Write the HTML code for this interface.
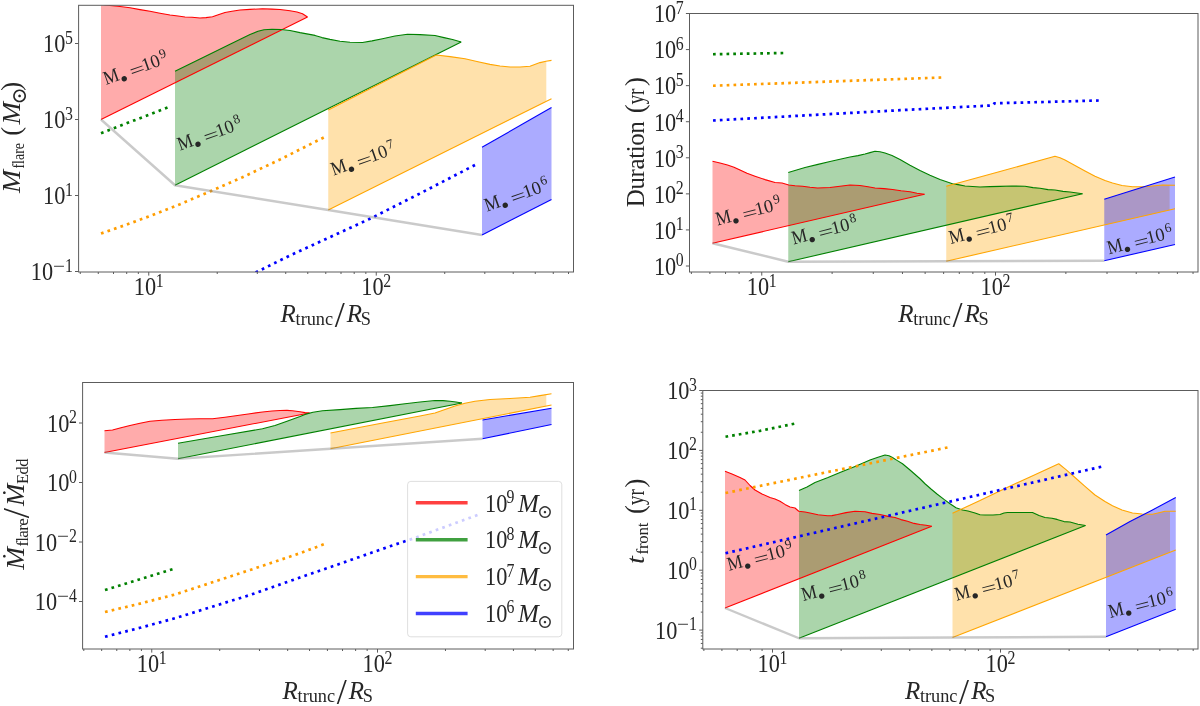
<!DOCTYPE html>
<html lang="en"><head><meta charset="utf-8"><title>Flare properties vs truncation radius</title>
<style>html,body{margin:0;padding:0;background:#fff}svg{display:block}svg text{font-family:"Liberation Serif", "DejaVu Serif", serif}</style></head>
<body>
<svg width="1200" height="706" viewBox="0 0 1200 706">
<rect width="1200" height="706" fill="#fff"/>
<clipPath id="ax2"><rect x="78.60" y="5.30" width="494.90" height="266.70"/>
</clipPath>
<g clip-path="url(#ax2)"><polygon points="101.00,2.00 104.00,4.60 110.00,5.50 120.00,6.50 130.00,7.80 140.00,9.60 150.00,11.30 160.00,13.20 170.00,15.00 178.00,16.00 185.00,17.00 192.00,17.20 200.00,18.00 206.00,17.60 212.50,16.80 219.00,14.60 225.00,12.50 232.00,11.30 240.00,10.00 250.00,9.40 262.50,8.70 272.00,9.10 280.00,9.50 290.00,10.80 297.00,12.00 302.50,13.70 307.50,17.00 307.50,17.00 101.00,119.50" fill="#ff0000" fill-opacity="0.33"/>
<polygon points="175.00,71.25 200.00,59.00 230.00,44.30 250.00,34.60 258.00,31.20 264.00,29.80 272.00,29.20 281.00,29.50 290.00,30.50 300.00,32.60 315.00,35.40 322.00,37.60 330.00,39.40 340.00,41.20 350.00,42.20 362.50,42.50 372.00,40.90 382.50,38.70 395.00,36.00 407.50,34.20 420.00,34.60 435.00,35.50 444.00,37.60 452.50,39.50 461.20,42.00 461.20,42.00 175.00,185.25" fill="#008000" fill-opacity="0.33"/>
<clipPath id="fc1"><rect x="0" y="0" width="546.30" height="706"/>
</clipPath>
<g clip-path="url(#fc1)"><polygon points="328.25,110.00 436.25,55.00 450.00,56.60 465.00,58.80 478.00,61.80 490.00,64.40 500.00,66.00 510.00,67.00 520.00,67.00 530.00,66.20 540.00,62.60 546.00,61.20 551.50,60.40 551.50,98.75 328.25,210.00" fill="#ffa500" fill-opacity="0.33"/>
</g>
<polygon points="482.00,147.30 551.50,107.50 551.50,199.50 482.00,235.00" fill="#0000ff" fill-opacity="0.33"/>
<polyline points="101.00,2.00 104.00,4.60 110.00,5.50 120.00,6.50 130.00,7.80 140.00,9.60 150.00,11.30 160.00,13.20 170.00,15.00 178.00,16.00 185.00,17.00 192.00,17.20 200.00,18.00 206.00,17.60 212.50,16.80 219.00,14.60 225.00,12.50 232.00,11.30 240.00,10.00 250.00,9.40 262.50,8.70 272.00,9.10 280.00,9.50 290.00,10.80 297.00,12.00 302.50,13.70 307.50,17.00" fill="none" stroke="#ff0000" stroke-width="1.1" stroke-linejoin="round"/>
<polyline points="101.00,119.50 307.50,17.00" fill="none" stroke="#ff0000" stroke-width="1.1"/>
<polyline points="175.00,71.25 200.00,59.00 230.00,44.30 250.00,34.60 258.00,31.20 264.00,29.80 272.00,29.20 281.00,29.50 290.00,30.50 300.00,32.60 315.00,35.40 322.00,37.60 330.00,39.40 340.00,41.20 350.00,42.20 362.50,42.50 372.00,40.90 382.50,38.70 395.00,36.00 407.50,34.20 420.00,34.60 435.00,35.50 444.00,37.60 452.50,39.50 461.20,42.00" fill="none" stroke="#008000" stroke-width="1.1" stroke-linejoin="round"/>
<polyline points="175.00,185.25 461.20,42.00" fill="none" stroke="#008000" stroke-width="1.1"/>
<polyline points="328.25,110.00 436.25,55.00 450.00,56.60 465.00,58.80 478.00,61.80 490.00,64.40 500.00,66.00 510.00,67.00 520.00,67.00 530.00,66.20 540.00,62.60 546.00,61.20 551.50,60.40" fill="none" stroke="#ffa500" stroke-width="1.1" stroke-linejoin="round"/>
<polyline points="328.25,210.00 551.50,98.75" fill="none" stroke="#ffa500" stroke-width="1.1"/>
<polyline points="482.00,147.30 551.50,107.50" fill="none" stroke="#0000ff" stroke-width="1.1" stroke-linejoin="round"/>
<polyline points="482.00,235.00 551.50,199.50" fill="none" stroke="#0000ff" stroke-width="1.1"/>
<polyline points="101.00,133.25 167.50,107.50" fill="none" stroke="#008000" stroke-width="2.7" stroke-dasharray="2.7 4.161"/>
<polyline points="101.00,233.50 125.00,225.20 150.00,216.00 180.00,204.20 211.00,191.00 242.50,177.25 280.00,159.50 323.75,137.50" fill="none" stroke="#ff9d00" stroke-width="2.7" stroke-dasharray="2.7 4.160"/>
<polyline points="255.60,272.50 290.00,255.50 370.00,218.75 420.00,193.50 475.00,165.00" fill="none" stroke="#0000ff" stroke-width="2.7" stroke-dasharray="2.7 4.205"/>
<polyline points="101.00,119.50 175.00,185.25 328.25,210.00 482.00,235.00" fill="none" stroke="#808080" stroke-opacity="0.42" stroke-width="2.4" stroke-linejoin="round"/>
<text transform="translate(106.51,84.90) rotate(-19.5)" font-size="18.5" fill="#262626"><tspan x="-0.5" y="0" font-size="19.5" textLength="15.3" lengthAdjust="spacingAndGlyphs">M</tspan><tspan x="14.7" y="7.6" font-size="23">•</tspan><tspan x="26.3" y="2.1" textLength="15.2" lengthAdjust="spacingAndGlyphs">=</tspan><tspan x="39.9" y="0">10</tspan><tspan x="59.9" y="-6.6" font-size="13.3">9</tspan></text>
<text transform="translate(180.41,150.49) rotate(-19.5)" font-size="18.5" fill="#262626"><tspan x="-0.5" y="0" font-size="19.5" textLength="15.3" lengthAdjust="spacingAndGlyphs">M</tspan><tspan x="14.7" y="7.6" font-size="23">•</tspan><tspan x="26.3" y="2.1" textLength="15.2" lengthAdjust="spacingAndGlyphs">=</tspan><tspan x="39.9" y="0">10</tspan><tspan x="59.9" y="-6.6" font-size="13.3">8</tspan></text>
<text transform="translate(333.88,175.49) rotate(-19.5)" font-size="18.5" fill="#262626"><tspan x="-0.5" y="0" font-size="19.5" textLength="15.3" lengthAdjust="spacingAndGlyphs">M</tspan><tspan x="14.7" y="7.6" font-size="23">•</tspan><tspan x="26.3" y="2.1" textLength="15.2" lengthAdjust="spacingAndGlyphs">=</tspan><tspan x="39.9" y="0">10</tspan><tspan x="59.9" y="-6.6" font-size="13.3">7</tspan></text>
<text transform="translate(487.56,211.60) rotate(-19.5)" font-size="18.5" fill="#262626"><tspan x="-0.5" y="0" font-size="19.5" textLength="15.3" lengthAdjust="spacingAndGlyphs">M</tspan><tspan x="14.7" y="7.6" font-size="23">•</tspan><tspan x="26.3" y="2.1" textLength="15.2" lengthAdjust="spacingAndGlyphs">=</tspan><tspan x="39.9" y="0">10</tspan><tspan x="59.9" y="-6.6" font-size="13.3">6</tspan></text>
</g>
<path d="M80.27 272.00v2.0M98.28 272.00v2.0M113.51 272.00v2.0M126.70 272.00v2.0M138.34 272.00v2.0M148.75 272.00v3.6M217.23 272.00v2.0M257.30 272.00v2.0M285.72 272.00v2.0M307.77 272.00v2.0M325.78 272.00v2.0M341.01 272.00v2.0M354.20 272.00v2.0M365.84 272.00v2.0M376.25 272.00v3.6M444.73 272.00v2.0M484.80 272.00v2.0M513.22 272.00v2.0M535.27 272.00v2.0M553.28 272.00v2.0M568.51 272.00v2.0M78.60 43.50h-3.6M78.60 119.50h-3.6M78.60 195.50h-3.6M78.60 271.50h-3.6" stroke="#5c5c5c" stroke-width="1" fill="none"/>
<rect x="78.60" y="5.30" width="494.90" height="266.70" fill="none" stroke="#5c5c5c" stroke-width="1"/>
<text x="72.80" y="52.30" font-size="25" text-anchor="end" fill="#262626"><tspan textLength="22.3" lengthAdjust="spacingAndGlyphs">10</tspan><tspan font-size="18" dx="-0.4" dy="-8.8" textLength="7.9" lengthAdjust="spacingAndGlyphs">5</tspan></text>
<text x="72.80" y="128.30" font-size="25" text-anchor="end" fill="#262626"><tspan textLength="22.3" lengthAdjust="spacingAndGlyphs">10</tspan><tspan font-size="18" dx="-0.4" dy="-8.8" textLength="7.9" lengthAdjust="spacingAndGlyphs">3</tspan></text>
<text x="72.80" y="204.30" font-size="25" text-anchor="end" fill="#262626"><tspan textLength="22.3" lengthAdjust="spacingAndGlyphs">10</tspan><tspan font-size="18" dx="-0.4" dy="-8.8" textLength="7.9" lengthAdjust="spacingAndGlyphs">1</tspan></text>
<text x="72.80" y="280.30" font-size="25" text-anchor="end" fill="#262626"><tspan textLength="22.3" lengthAdjust="spacingAndGlyphs">10</tspan><tspan font-size="18" dx="-0.2" dy="-8.8" textLength="12" lengthAdjust="spacingAndGlyphs">−</tspan><tspan font-size="18" textLength="7.9" lengthAdjust="spacingAndGlyphs">1</tspan></text>
<text x="133.75" y="295.30" font-size="25" text-anchor="start" fill="#262626"><tspan textLength="22.3" lengthAdjust="spacingAndGlyphs">10</tspan><tspan font-size="18" dx="-0.4" dy="-8.8" textLength="7.9" lengthAdjust="spacingAndGlyphs">1</tspan></text>
<text x="361.25" y="295.30" font-size="25" text-anchor="start" fill="#262626"><tspan textLength="22.3" lengthAdjust="spacingAndGlyphs">10</tspan><tspan font-size="18" dx="-0.4" dy="-8.8" textLength="7.9" lengthAdjust="spacingAndGlyphs">2</tspan></text>
<text font-size="25" fill="#262626"><tspan x="280.55" y="321.50" font-style="italic">R</tspan><tspan x="295.55" y="325.10" font-size="18.3">trunc</tspan><tspan x="334.75" y="327.30" font-size="36">/</tspan><tspan x="346.85" y="321.50" font-style="italic">R</tspan><tspan x="360.75" y="325.10" font-size="18.3">S</tspan></text>
<text transform="translate(19.80,193.00) rotate(-90)" font-size="25" fill="#262626"><tspan x="0.00" y="0.00" font-style="italic" textLength="23.2" lengthAdjust="spacingAndGlyphs">M</tspan><tspan x="24.40" y="4.30" font-size="17.5" textLength="25.6" lengthAdjust="spacingAndGlyphs">flare</tspan><tspan x="57.30" y="0.00" font-size="26.5">(</tspan><tspan x="68.60" y="0.00" font-style="italic" textLength="22.6" lengthAdjust="spacingAndGlyphs">M</tspan><tspan x="88.60" y="6.00" font-size="20.5">⊙</tspan><tspan x="102.30" y="0.00" font-size="26.5">)</tspan></text>
<clipPath id="ax4"><rect x="689.50" y="13.50" width="508.50" height="258.50"/>
</clipPath>
<g clip-path="url(#ax4)"><polygon points="712.50,161.25 720.00,163.00 727.50,165.00 734.00,167.20 740.00,170.00 747.00,173.30 755.00,176.20 765.00,179.60 775.00,182.50 782.00,183.00 788.75,185.00 795.00,185.80 802.50,186.20 810.00,187.30 817.50,188.00 830.00,187.50 840.00,186.30 850.00,185.00 860.00,185.50 868.00,186.80 875.00,188.00 884.00,188.60 892.50,189.50 901.00,190.80 910.00,191.70 917.00,193.20 924.50,194.25 924.50,194.25 712.50,243.25" fill="#ff0000" fill-opacity="0.33"/>
<polygon points="788.25,172.50 805.00,167.50 818.00,164.40 830.00,161.50 840.00,159.20 850.00,157.00 858.00,155.60 865.00,154.00 870.00,152.60 875.00,151.25 880.00,151.80 885.00,153.00 892.00,155.60 900.00,159.60 910.00,165.20 920.00,170.40 930.00,175.20 940.00,179.60 952.50,183.70 958.00,184.60 965.00,186.00 980.00,187.00 990.00,186.60 1000.00,186.40 1012.00,186.00 1025.00,186.25 1033.00,187.60 1040.00,188.20 1048.00,189.60 1055.00,190.00 1063.00,191.40 1070.00,192.00 1082.50,193.75 1082.50,193.75 788.25,261.75" fill="#008000" fill-opacity="0.33"/>
<clipPath id="fc3"><rect x="0" y="0" width="1169.60" height="706"/>
</clipPath>
<g clip-path="url(#fc3)"><polygon points="946.25,186.25 1000.00,171.50 1055.00,156.25 1060.00,157.80 1065.00,160.00 1075.00,165.50 1085.00,171.00 1095.00,176.25 1105.00,180.50 1112.50,183.00 1122.00,185.50 1132.50,186.75 1142.00,186.75 1150.00,186.25 1162.50,185.00 1175.00,185.25 1175.00,208.75 946.25,261.25" fill="#ffa500" fill-opacity="0.33"/>
</g>
<polygon points="1104.25,199.25 1175.00,177.00 1175.00,244.50 1104.25,260.75" fill="#0000ff" fill-opacity="0.33"/>
<polyline points="712.50,161.25 720.00,163.00 727.50,165.00 734.00,167.20 740.00,170.00 747.00,173.30 755.00,176.20 765.00,179.60 775.00,182.50 782.00,183.00 788.75,185.00 795.00,185.80 802.50,186.20 810.00,187.30 817.50,188.00 830.00,187.50 840.00,186.30 850.00,185.00 860.00,185.50 868.00,186.80 875.00,188.00 884.00,188.60 892.50,189.50 901.00,190.80 910.00,191.70 917.00,193.20 924.50,194.25" fill="none" stroke="#ff0000" stroke-width="1.1" stroke-linejoin="round"/>
<polyline points="712.50,243.25 924.50,194.25" fill="none" stroke="#ff0000" stroke-width="1.1"/>
<polyline points="788.25,172.50 805.00,167.50 818.00,164.40 830.00,161.50 840.00,159.20 850.00,157.00 858.00,155.60 865.00,154.00 870.00,152.60 875.00,151.25 880.00,151.80 885.00,153.00 892.00,155.60 900.00,159.60 910.00,165.20 920.00,170.40 930.00,175.20 940.00,179.60 952.50,183.70 958.00,184.60 965.00,186.00 980.00,187.00 990.00,186.60 1000.00,186.40 1012.00,186.00 1025.00,186.25 1033.00,187.60 1040.00,188.20 1048.00,189.60 1055.00,190.00 1063.00,191.40 1070.00,192.00 1082.50,193.75" fill="none" stroke="#008000" stroke-width="1.1" stroke-linejoin="round"/>
<polyline points="788.25,261.75 1082.50,193.75" fill="none" stroke="#008000" stroke-width="1.1"/>
<polyline points="946.25,186.25 1000.00,171.50 1055.00,156.25 1060.00,157.80 1065.00,160.00 1075.00,165.50 1085.00,171.00 1095.00,176.25 1105.00,180.50 1112.50,183.00 1122.00,185.50 1132.50,186.75 1142.00,186.75 1150.00,186.25 1162.50,185.00 1175.00,185.25" fill="none" stroke="#ffa500" stroke-width="1.1" stroke-linejoin="round"/>
<polyline points="946.25,261.25 1175.00,208.75" fill="none" stroke="#ffa500" stroke-width="1.1"/>
<polyline points="1104.25,199.25 1175.00,177.00" fill="none" stroke="#0000ff" stroke-width="1.1" stroke-linejoin="round"/>
<polyline points="1104.25,260.75 1175.00,244.50" fill="none" stroke="#0000ff" stroke-width="1.1"/>
<polyline points="713.00,54.25 783.25,53.00" fill="none" stroke="#008000" stroke-width="2.7" stroke-dasharray="2.7 4.056"/>
<polyline points="713.00,85.75 941.25,77.50" fill="none" stroke="#ff9d00" stroke-width="2.7" stroke-dasharray="2.7 4.139"/>
<polyline points="713.00,120.50 900.00,110.20 992.50,105.40 994.50,103.30 1098.75,100.50" fill="none" stroke="#0000ff" stroke-width="2.7" stroke-dasharray="2.7 4.164"/>
<polyline points="712.50,243.25 788.25,261.75 946.25,261.25 1104.25,260.75" fill="none" stroke="#808080" stroke-opacity="0.42" stroke-width="2.4" stroke-linejoin="round"/>
<text transform="translate(717.90,225.48) rotate(-14.5)" font-size="18.5" fill="#262626"><tspan x="-0.5" y="0" font-size="19.5" textLength="15.3" lengthAdjust="spacingAndGlyphs">M</tspan><tspan x="14.7" y="7.6" font-size="23">•</tspan><tspan x="26.3" y="2.1" textLength="15.2" lengthAdjust="spacingAndGlyphs">=</tspan><tspan x="39.9" y="0">10</tspan><tspan x="59.9" y="-6.6" font-size="13.3">9</tspan></text>
<text transform="translate(794.10,244.38) rotate(-14.5)" font-size="18.5" fill="#262626"><tspan x="-0.5" y="0" font-size="19.5" textLength="15.3" lengthAdjust="spacingAndGlyphs">M</tspan><tspan x="14.7" y="7.6" font-size="23">•</tspan><tspan x="26.3" y="2.1" textLength="15.2" lengthAdjust="spacingAndGlyphs">=</tspan><tspan x="39.9" y="0">10</tspan><tspan x="59.9" y="-6.6" font-size="13.3">8</tspan></text>
<text transform="translate(951.21,243.93) rotate(-14.5)" font-size="18.5" fill="#262626"><tspan x="-0.5" y="0" font-size="19.5" textLength="15.3" lengthAdjust="spacingAndGlyphs">M</tspan><tspan x="14.7" y="7.6" font-size="23">•</tspan><tspan x="26.3" y="2.1" textLength="15.2" lengthAdjust="spacingAndGlyphs">=</tspan><tspan x="39.9" y="0">10</tspan><tspan x="59.9" y="-6.6" font-size="13.3">7</tspan></text>
<text transform="translate(1109.42,254.01) rotate(-14.5)" font-size="18.5" fill="#262626"><tspan x="-0.5" y="0" font-size="19.5" textLength="15.3" lengthAdjust="spacingAndGlyphs">M</tspan><tspan x="14.7" y="7.6" font-size="23">•</tspan><tspan x="26.3" y="2.1" textLength="15.2" lengthAdjust="spacingAndGlyphs">=</tspan><tspan x="39.9" y="0">10</tspan><tspan x="59.9" y="-6.6" font-size="13.3">6</tspan></text>
</g>
<path d="M691.38 272.00v2.0M709.89 272.00v2.0M725.54 272.00v2.0M739.10 272.00v2.0M751.05 272.00v2.0M761.75 272.00v3.6M832.12 272.00v2.0M873.28 272.00v2.0M902.48 272.00v2.0M925.13 272.00v2.0M943.64 272.00v2.0M959.29 272.00v2.0M972.85 272.00v2.0M984.80 272.00v2.0M995.50 272.00v3.6M1065.87 272.00v2.0M1107.03 272.00v2.0M1136.23 272.00v2.0M1158.88 272.00v2.0M1177.39 272.00v2.0M1193.04 272.00v2.0M689.50 266.00h-3.6M689.50 229.93h-3.6M689.50 193.86h-3.6M689.50 157.79h-3.6M689.50 121.72h-3.6M689.50 85.65h-3.6M689.50 49.58h-3.6M689.50 13.51h-3.6" stroke="#5c5c5c" stroke-width="1" fill="none"/>
<rect x="689.50" y="13.50" width="508.50" height="258.50" fill="none" stroke="#5c5c5c" stroke-width="1"/>
<text x="683.70" y="274.80" font-size="25" text-anchor="end" fill="#262626"><tspan textLength="22.3" lengthAdjust="spacingAndGlyphs">10</tspan><tspan font-size="18" dx="-0.4" dy="-8.8" textLength="7.9" lengthAdjust="spacingAndGlyphs">0</tspan></text>
<text x="683.70" y="238.73" font-size="25" text-anchor="end" fill="#262626"><tspan textLength="22.3" lengthAdjust="spacingAndGlyphs">10</tspan><tspan font-size="18" dx="-0.4" dy="-8.8" textLength="7.9" lengthAdjust="spacingAndGlyphs">1</tspan></text>
<text x="683.70" y="202.66" font-size="25" text-anchor="end" fill="#262626"><tspan textLength="22.3" lengthAdjust="spacingAndGlyphs">10</tspan><tspan font-size="18" dx="-0.4" dy="-8.8" textLength="7.9" lengthAdjust="spacingAndGlyphs">2</tspan></text>
<text x="683.70" y="166.59" font-size="25" text-anchor="end" fill="#262626"><tspan textLength="22.3" lengthAdjust="spacingAndGlyphs">10</tspan><tspan font-size="18" dx="-0.4" dy="-8.8" textLength="7.9" lengthAdjust="spacingAndGlyphs">3</tspan></text>
<text x="683.70" y="130.52" font-size="25" text-anchor="end" fill="#262626"><tspan textLength="22.3" lengthAdjust="spacingAndGlyphs">10</tspan><tspan font-size="18" dx="-0.4" dy="-8.8" textLength="7.9" lengthAdjust="spacingAndGlyphs">4</tspan></text>
<text x="683.70" y="94.45" font-size="25" text-anchor="end" fill="#262626"><tspan textLength="22.3" lengthAdjust="spacingAndGlyphs">10</tspan><tspan font-size="18" dx="-0.4" dy="-8.8" textLength="7.9" lengthAdjust="spacingAndGlyphs">5</tspan></text>
<text x="683.70" y="58.38" font-size="25" text-anchor="end" fill="#262626"><tspan textLength="22.3" lengthAdjust="spacingAndGlyphs">10</tspan><tspan font-size="18" dx="-0.4" dy="-8.8" textLength="7.9" lengthAdjust="spacingAndGlyphs">6</tspan></text>
<text x="683.70" y="22.31" font-size="25" text-anchor="end" fill="#262626"><tspan textLength="22.3" lengthAdjust="spacingAndGlyphs">10</tspan><tspan font-size="18" dx="-0.4" dy="-8.8" textLength="7.9" lengthAdjust="spacingAndGlyphs">7</tspan></text>
<text x="746.75" y="295.30" font-size="25" text-anchor="start" fill="#262626"><tspan textLength="22.3" lengthAdjust="spacingAndGlyphs">10</tspan><tspan font-size="18" dx="-0.4" dy="-8.8" textLength="7.9" lengthAdjust="spacingAndGlyphs">1</tspan></text>
<text x="980.50" y="295.30" font-size="25" text-anchor="start" fill="#262626"><tspan textLength="22.3" lengthAdjust="spacingAndGlyphs">10</tspan><tspan font-size="18" dx="-0.4" dy="-8.8" textLength="7.9" lengthAdjust="spacingAndGlyphs">2</tspan></text>
<text font-size="25" fill="#262626"><tspan x="898.25" y="321.50" font-style="italic">R</tspan><tspan x="913.25" y="325.10" font-size="18.3">trunc</tspan><tspan x="952.45" y="327.30" font-size="36">/</tspan><tspan x="964.55" y="321.50" font-style="italic">R</tspan><tspan x="978.45" y="325.10" font-size="18.3">S</tspan></text>
<text transform="translate(644.30,207.20) rotate(-90)" font-size="25" fill="#262626"><tspan x="0.00" y="0.00" letter-spacing="-0.4">Duration</tspan><tspan x="94.00" y="0.00" font-size="26.5">(</tspan><tspan x="102.60" y="0.00" textLength="16.2" lengthAdjust="spacingAndGlyphs">yr</tspan><tspan x="121.20" y="0.00" font-size="26.5">)</tspan></text>
<clipPath id="ax6"><rect x="82.60" y="382.50" width="490.90" height="266.50"/>
</clipPath>
<g clip-path="url(#ax6)"><polygon points="104.50,430.75 112.50,430.00 121.00,427.80 130.00,425.50 140.00,423.20 150.00,421.25 162.00,420.20 175.00,419.50 188.00,419.00 200.00,418.75 212.50,418.75 225.00,417.20 237.50,415.50 250.00,413.70 262.50,412.00 272.00,411.00 280.00,410.50 287.00,410.40 292.50,410.75 300.00,411.80 305.00,412.60 309.50,413.00 309.50,413.00 104.50,452.50" fill="#ff0000" fill-opacity="0.33"/>
<polygon points="178.00,443.25 220.00,436.00 262.50,428.75 275.00,425.50 287.00,421.20 300.00,416.50 305.00,414.40 313.00,412.20 322.50,410.75 340.00,409.60 356.00,408.40 372.50,407.50 390.00,405.60 405.00,403.80 420.00,402.00 435.00,400.50 443.00,400.60 450.00,401.25 456.00,402.00 462.00,403.00 462.00,403.00 178.00,458.75" fill="#008000" fill-opacity="0.33"/>
<clipPath id="fc5"><rect x="0" y="0" width="546.30" height="706"/>
</clipPath>
<g clip-path="url(#fc5)"><polygon points="330.50,433.00 380.00,423.50 420.00,416.00 435.00,413.00 445.00,409.60 455.00,406.00 465.00,403.20 475.00,401.25 490.00,399.50 510.00,398.50 530.00,397.30 540.00,395.60 551.50,393.75 551.50,405.00 330.50,448.75" fill="#ffa500" fill-opacity="0.33"/>
</g>
<polygon points="482.50,420.00 551.50,408.25 551.50,424.50 482.50,438.75" fill="#0000ff" fill-opacity="0.33"/>
<polyline points="104.50,430.75 112.50,430.00 121.00,427.80 130.00,425.50 140.00,423.20 150.00,421.25 162.00,420.20 175.00,419.50 188.00,419.00 200.00,418.75 212.50,418.75 225.00,417.20 237.50,415.50 250.00,413.70 262.50,412.00 272.00,411.00 280.00,410.50 287.00,410.40 292.50,410.75 300.00,411.80 305.00,412.60 309.50,413.00" fill="none" stroke="#ff0000" stroke-width="1.1" stroke-linejoin="round"/>
<polyline points="104.50,452.50 309.50,413.00" fill="none" stroke="#ff0000" stroke-width="1.1"/>
<polyline points="178.00,443.25 220.00,436.00 262.50,428.75 275.00,425.50 287.00,421.20 300.00,416.50 305.00,414.40 313.00,412.20 322.50,410.75 340.00,409.60 356.00,408.40 372.50,407.50 390.00,405.60 405.00,403.80 420.00,402.00 435.00,400.50 443.00,400.60 450.00,401.25 456.00,402.00 462.00,403.00" fill="none" stroke="#008000" stroke-width="1.1" stroke-linejoin="round"/>
<polyline points="178.00,458.75 462.00,403.00" fill="none" stroke="#008000" stroke-width="1.1"/>
<polyline points="330.50,433.00 380.00,423.50 420.00,416.00 435.00,413.00 445.00,409.60 455.00,406.00 465.00,403.20 475.00,401.25 490.00,399.50 510.00,398.50 530.00,397.30 540.00,395.60 551.50,393.75" fill="none" stroke="#ffa500" stroke-width="1.1" stroke-linejoin="round"/>
<polyline points="330.50,448.75 551.50,405.00" fill="none" stroke="#ffa500" stroke-width="1.1"/>
<polyline points="482.50,420.00 551.50,408.25" fill="none" stroke="#0000ff" stroke-width="1.1" stroke-linejoin="round"/>
<polyline points="482.50,438.75 551.50,424.50" fill="none" stroke="#0000ff" stroke-width="1.1"/>
<polyline points="105.00,590.00 172.50,569.25" fill="none" stroke="#008000" stroke-width="2.7" stroke-dasharray="2.7 4.092"/>
<polyline points="105.00,612.00 140.00,603.60 175.00,594.50 250.00,570.00 300.00,553.25 323.75,544.25" fill="none" stroke="#ff9d00" stroke-width="2.7" stroke-dasharray="2.7 4.163"/>
<polyline points="105.00,636.75 140.00,627.80 175.00,618.25 250.00,595.00 300.00,577.50 340.00,563.75 390.00,546.25 412.50,538.75 477.50,515.00" fill="none" stroke="#0000ff" stroke-width="2.7" stroke-dasharray="2.7 4.253"/>
<polyline points="104.50,452.50 178.00,458.75 330.50,448.75 482.50,438.75" fill="none" stroke="#808080" stroke-opacity="0.42" stroke-width="2.4" stroke-linejoin="round"/>
</g>
<path d="M83.79 649.00v2.0M101.67 649.00v2.0M116.78 649.00v2.0M129.87 649.00v2.0M141.42 649.00v2.0M151.75 649.00v3.6M219.71 649.00v2.0M259.46 649.00v2.0M287.67 649.00v2.0M309.54 649.00v2.0M327.42 649.00v2.0M342.53 649.00v2.0M355.62 649.00v2.0M367.17 649.00v2.0M377.50 649.00v3.6M445.46 649.00v2.0M485.21 649.00v2.0M513.42 649.00v2.0M535.29 649.00v2.0M553.17 649.00v2.0M568.28 649.00v2.0M82.60 423.00h-3.6M82.60 482.50h-3.6M82.60 542.00h-3.6M82.60 601.50h-3.6" stroke="#5c5c5c" stroke-width="1" fill="none"/>
<rect x="82.60" y="382.50" width="490.90" height="266.50" fill="none" stroke="#5c5c5c" stroke-width="1"/>
<text x="76.80" y="431.80" font-size="25" text-anchor="end" fill="#262626"><tspan textLength="22.3" lengthAdjust="spacingAndGlyphs">10</tspan><tspan font-size="18" dx="-0.4" dy="-8.8" textLength="7.9" lengthAdjust="spacingAndGlyphs">2</tspan></text>
<text x="76.80" y="491.30" font-size="25" text-anchor="end" fill="#262626"><tspan textLength="22.3" lengthAdjust="spacingAndGlyphs">10</tspan><tspan font-size="18" dx="-0.4" dy="-8.8" textLength="7.9" lengthAdjust="spacingAndGlyphs">0</tspan></text>
<text x="76.80" y="550.80" font-size="25" text-anchor="end" fill="#262626"><tspan textLength="22.3" lengthAdjust="spacingAndGlyphs">10</tspan><tspan font-size="18" dx="-0.2" dy="-8.8" textLength="12" lengthAdjust="spacingAndGlyphs">−</tspan><tspan font-size="18" textLength="7.9" lengthAdjust="spacingAndGlyphs">2</tspan></text>
<text x="76.80" y="610.30" font-size="25" text-anchor="end" fill="#262626"><tspan textLength="22.3" lengthAdjust="spacingAndGlyphs">10</tspan><tspan font-size="18" dx="-0.2" dy="-8.8" textLength="12" lengthAdjust="spacingAndGlyphs">−</tspan><tspan font-size="18" textLength="7.9" lengthAdjust="spacingAndGlyphs">4</tspan></text>
<text x="136.75" y="672.30" font-size="25" text-anchor="start" fill="#262626"><tspan textLength="22.3" lengthAdjust="spacingAndGlyphs">10</tspan><tspan font-size="18" dx="-0.4" dy="-8.8" textLength="7.9" lengthAdjust="spacingAndGlyphs">1</tspan></text>
<text x="362.50" y="672.30" font-size="25" text-anchor="start" fill="#262626"><tspan textLength="22.3" lengthAdjust="spacingAndGlyphs">10</tspan><tspan font-size="18" dx="-0.4" dy="-8.8" textLength="7.9" lengthAdjust="spacingAndGlyphs">2</tspan></text>
<text font-size="25" fill="#262626"><tspan x="282.55" y="698.50" font-style="italic">R</tspan><tspan x="297.55" y="702.10" font-size="18.3">trunc</tspan><tspan x="336.75" y="704.30" font-size="36">/</tspan><tspan x="348.85" y="698.50" font-style="italic">R</tspan><tspan x="362.75" y="702.10" font-size="18.3">S</tspan></text>
<text transform="translate(24.20,569.80) rotate(-90)" font-size="25" fill="#262626"><tspan x="0.00" y="0.00" font-style="italic" textLength="22.8" lengthAdjust="spacingAndGlyphs">Ṁ</tspan><tspan x="23.20" y="4.00" font-size="17" letter-spacing="-0.7">flare</tspan><tspan x="51.50" y="5.00" font-size="37">/</tspan><tspan x="63.70" y="0.00" font-style="italic" textLength="22.4" lengthAdjust="spacingAndGlyphs">Ṁ</tspan><tspan x="85.80" y="4.00" font-size="16.5" letter-spacing="-0.5">Edd</tspan></text>
<rect x="407.6" y="481.4" width="154.2" height="155.4" rx="3.2" ry="3.2" fill="#fff" fill-opacity="0.8" stroke="#cccccc" stroke-opacity="0.62" stroke-width="1"/>
<line x1="415.8" x2="467.6" y1="502.80" y2="502.80" stroke="#ff0000" stroke-opacity="0.75" stroke-width="3.4"/>
<text font-size="25" fill="#262626"><tspan x="485" y="511.50" textLength="22.3" lengthAdjust="spacingAndGlyphs">10</tspan><tspan x="506.6" y="502.70" font-size="18" textLength="7.9" lengthAdjust="spacingAndGlyphs">9</tspan><tspan x="518" y="511.50" font-size="25" font-style="italic">M</tspan><tspan x="536.9" y="517.50" font-size="19" fill="#333">⊙</tspan></text>
<line x1="415.8" x2="467.6" y1="539.70" y2="539.70" stroke="#008000" stroke-opacity="0.75" stroke-width="3.4"/>
<text font-size="25" fill="#262626"><tspan x="485" y="548.40" textLength="22.3" lengthAdjust="spacingAndGlyphs">10</tspan><tspan x="506.6" y="539.60" font-size="18" textLength="7.9" lengthAdjust="spacingAndGlyphs">8</tspan><tspan x="518" y="548.40" font-size="25" font-style="italic">M</tspan><tspan x="536.9" y="554.40" font-size="19" fill="#333">⊙</tspan></text>
<line x1="415.8" x2="467.6" y1="576.60" y2="576.60" stroke="#ffa500" stroke-opacity="0.75" stroke-width="3.4"/>
<text font-size="25" fill="#262626"><tspan x="485" y="585.30" textLength="22.3" lengthAdjust="spacingAndGlyphs">10</tspan><tspan x="506.6" y="576.50" font-size="18" textLength="7.9" lengthAdjust="spacingAndGlyphs">7</tspan><tspan x="518" y="585.30" font-size="25" font-style="italic">M</tspan><tspan x="536.9" y="591.30" font-size="19" fill="#333">⊙</tspan></text>
<line x1="415.8" x2="467.6" y1="613.50" y2="613.50" stroke="#0000ff" stroke-opacity="0.75" stroke-width="3.4"/>
<text font-size="25" fill="#262626"><tspan x="485" y="622.20" textLength="22.3" lengthAdjust="spacingAndGlyphs">10</tspan><tspan x="506.6" y="613.40" font-size="18" textLength="7.9" lengthAdjust="spacingAndGlyphs">6</tspan><tspan x="518" y="622.20" font-size="25" font-style="italic">M</tspan><tspan x="536.9" y="628.20" font-size="19" fill="#333">⊙</tspan></text>
<clipPath id="ax8"><rect x="702.80" y="390.50" width="495.20" height="258.50"/>
</clipPath>
<g clip-path="url(#ax8)"><polygon points="725.00,471.25 732.00,474.00 740.00,477.50 745.00,480.00 750.00,485.50 755.00,490.00 762.00,494.00 770.00,497.50 775.00,499.00 780.00,501.25 785.00,504.40 790.00,507.00 795.00,508.00 798.75,511.25 805.00,512.00 810.00,513.00 818.00,514.80 827.50,515.75 832.00,515.60 837.50,514.50 846.00,512.60 855.00,511.25 865.00,511.75 872.00,513.40 880.00,514.50 888.00,516.40 895.00,517.50 901.00,519.60 907.50,521.25 914.00,523.40 920.00,524.50 926.00,525.20 931.75,526.25 931.75,526.25 725.00,608.00" fill="#ff0000" fill-opacity="0.33"/>
<polygon points="799.00,490.50 807.00,487.00 815.00,482.50 828.00,477.60 840.00,472.50 855.00,466.40 870.00,460.00 878.00,457.20 885.00,455.00 889.00,455.80 892.50,457.50 897.00,460.40 902.50,463.75 910.00,470.00 920.00,478.75 925.00,483.75 931.00,489.00 937.00,494.00 944.00,499.40 950.00,503.75 956.00,507.80 962.50,510.00 968.00,511.00 975.00,513.00 980.00,514.80 985.00,515.00 993.00,515.00 1000.00,514.50 1004.00,513.00 1007.50,512.50 1020.00,512.50 1032.50,512.50 1039.00,515.60 1045.00,517.50 1052.00,518.20 1057.00,519.40 1064.00,521.60 1070.00,522.00 1078.00,524.20 1085.50,525.50 1085.50,525.50 799.00,638.25" fill="#008000" fill-opacity="0.33"/>
<clipPath id="fc7"><rect x="0" y="0" width="1170.10" height="706"/>
</clipPath>
<g clip-path="url(#fc7)"><polygon points="952.50,513.25 980.00,500.60 1005.00,488.40 1030.00,477.00 1058.75,463.75 1066.00,469.60 1075.00,477.50 1085.00,486.40 1095.00,495.00 1105.00,501.50 1112.50,505.75 1122.00,510.00 1132.50,513.00 1142.00,514.00 1152.50,514.25 1160.00,512.50 1165.00,511.25 1175.75,511.25 1175.75,550.00 952.50,637.50" fill="#ffa500" fill-opacity="0.33"/>
</g>
<polygon points="1106.00,535.00 1130.00,521.60 1152.00,510.20 1175.75,497.50 1175.75,609.25 1106.00,636.75" fill="#0000ff" fill-opacity="0.33"/>
<polyline points="725.00,471.25 732.00,474.00 740.00,477.50 745.00,480.00 750.00,485.50 755.00,490.00 762.00,494.00 770.00,497.50 775.00,499.00 780.00,501.25 785.00,504.40 790.00,507.00 795.00,508.00 798.75,511.25 805.00,512.00 810.00,513.00 818.00,514.80 827.50,515.75 832.00,515.60 837.50,514.50 846.00,512.60 855.00,511.25 865.00,511.75 872.00,513.40 880.00,514.50 888.00,516.40 895.00,517.50 901.00,519.60 907.50,521.25 914.00,523.40 920.00,524.50 926.00,525.20 931.75,526.25" fill="none" stroke="#ff0000" stroke-width="1.1" stroke-linejoin="round"/>
<polyline points="725.00,608.00 931.75,526.25" fill="none" stroke="#ff0000" stroke-width="1.1"/>
<polyline points="799.00,490.50 807.00,487.00 815.00,482.50 828.00,477.60 840.00,472.50 855.00,466.40 870.00,460.00 878.00,457.20 885.00,455.00 889.00,455.80 892.50,457.50 897.00,460.40 902.50,463.75 910.00,470.00 920.00,478.75 925.00,483.75 931.00,489.00 937.00,494.00 944.00,499.40 950.00,503.75 956.00,507.80 962.50,510.00 968.00,511.00 975.00,513.00 980.00,514.80 985.00,515.00 993.00,515.00 1000.00,514.50 1004.00,513.00 1007.50,512.50 1020.00,512.50 1032.50,512.50 1039.00,515.60 1045.00,517.50 1052.00,518.20 1057.00,519.40 1064.00,521.60 1070.00,522.00 1078.00,524.20 1085.50,525.50" fill="none" stroke="#008000" stroke-width="1.1" stroke-linejoin="round"/>
<polyline points="799.00,638.25 1085.50,525.50" fill="none" stroke="#008000" stroke-width="1.1"/>
<polyline points="952.50,513.25 980.00,500.60 1005.00,488.40 1030.00,477.00 1058.75,463.75 1066.00,469.60 1075.00,477.50 1085.00,486.40 1095.00,495.00 1105.00,501.50 1112.50,505.75 1122.00,510.00 1132.50,513.00 1142.00,514.00 1152.50,514.25 1160.00,512.50 1165.00,511.25 1175.75,511.25" fill="none" stroke="#ffa500" stroke-width="1.1" stroke-linejoin="round"/>
<polyline points="952.50,637.50 1175.75,550.00" fill="none" stroke="#ffa500" stroke-width="1.1"/>
<polyline points="1106.00,535.00 1130.00,521.60 1152.00,510.20 1175.75,497.50" fill="none" stroke="#0000ff" stroke-width="1.1" stroke-linejoin="round"/>
<polyline points="1106.00,636.75 1175.75,609.25" fill="none" stroke="#0000ff" stroke-width="1.1"/>
<polyline points="725.50,436.75 760.00,430.80 794.25,423.75" fill="none" stroke="#008000" stroke-width="2.7" stroke-dasharray="2.7 4.028"/>
<polyline points="725.50,493.00 947.50,447.50" fill="none" stroke="#ff9d00" stroke-width="2.7" stroke-dasharray="2.7 4.297"/>
<polyline points="725.50,553.25 1101.25,466.75" fill="none" stroke="#0000ff" stroke-width="2.7" stroke-dasharray="2.7 4.261"/>
<polyline points="725.00,608.00 799.00,638.25 952.50,637.50 1106.00,636.75" fill="none" stroke="#808080" stroke-opacity="0.42" stroke-width="2.4" stroke-linejoin="round"/>
<text transform="translate(729.60,570.73) rotate(-14.5)" font-size="18.5" fill="#262626"><tspan x="-0.5" y="0" font-size="19.5" textLength="15.3" lengthAdjust="spacingAndGlyphs">M</tspan><tspan x="14.7" y="7.6" font-size="23">•</tspan><tspan x="26.3" y="2.1" textLength="15.2" lengthAdjust="spacingAndGlyphs">=</tspan><tspan x="39.9" y="0">10</tspan><tspan x="59.9" y="-6.6" font-size="13.3">9</tspan></text>
<text transform="translate(803.70,600.88) rotate(-14.5)" font-size="18.5" fill="#262626"><tspan x="-0.5" y="0" font-size="19.5" textLength="15.3" lengthAdjust="spacingAndGlyphs">M</tspan><tspan x="14.7" y="7.6" font-size="23">•</tspan><tspan x="26.3" y="2.1" textLength="15.2" lengthAdjust="spacingAndGlyphs">=</tspan><tspan x="39.9" y="0">10</tspan><tspan x="59.9" y="-6.6" font-size="13.3">8</tspan></text>
<text transform="translate(957.06,600.53) rotate(-14.5)" font-size="18.5" fill="#262626"><tspan x="-0.5" y="0" font-size="19.5" textLength="15.3" lengthAdjust="spacingAndGlyphs">M</tspan><tspan x="14.7" y="7.6" font-size="23">•</tspan><tspan x="26.3" y="2.1" textLength="15.2" lengthAdjust="spacingAndGlyphs">=</tspan><tspan x="39.9" y="0">10</tspan><tspan x="59.9" y="-6.6" font-size="13.3">7</tspan></text>
<text transform="translate(1110.61,617.81) rotate(-14.5)" font-size="18.5" fill="#262626"><tspan x="-0.5" y="0" font-size="19.5" textLength="15.3" lengthAdjust="spacingAndGlyphs">M</tspan><tspan x="14.7" y="7.6" font-size="23">•</tspan><tspan x="26.3" y="2.1" textLength="15.2" lengthAdjust="spacingAndGlyphs">=</tspan><tspan x="39.9" y="0">10</tspan><tspan x="59.9" y="-6.6" font-size="13.3">6</tspan></text>
</g>
<path d="M703.87 649.00v2.0M721.92 649.00v2.0M737.18 649.00v2.0M750.40 649.00v2.0M762.07 649.00v2.0M772.50 649.00v3.6M841.13 649.00v2.0M881.28 649.00v2.0M909.77 649.00v2.0M931.87 649.00v2.0M949.92 649.00v2.0M965.18 649.00v2.0M978.40 649.00v2.0M990.07 649.00v2.0M1000.50 649.00v3.6M1069.13 649.00v2.0M1109.28 649.00v2.0M1137.77 649.00v2.0M1159.87 649.00v2.0M1177.92 649.00v2.0M1193.18 649.00v2.0M702.80 390.50h-3.6M702.80 450.40h-3.6M702.80 510.30h-3.6M702.80 570.20h-3.6M702.80 630.10h-3.6M702.80 648.20h-2M702.80 643.45h-2M702.80 639.44h-2M702.80 635.96h-2M702.80 632.89h-2M702.80 612.10h-2M702.80 601.55h-2M702.80 594.06h-2M702.80 588.25h-2M702.80 583.50h-2M702.80 579.49h-2M702.80 576.01h-2M702.80 572.94h-2M702.80 552.15h-2M702.80 541.60h-2M702.80 534.11h-2M702.80 528.30h-2M702.80 523.55h-2M702.80 519.54h-2M702.80 516.06h-2M702.80 512.99h-2M702.80 492.20h-2M702.80 481.65h-2M702.80 474.16h-2M702.80 468.35h-2M702.80 463.60h-2M702.80 459.59h-2M702.80 456.11h-2M702.80 453.04h-2M702.80 432.25h-2M702.80 421.70h-2M702.80 414.21h-2M702.80 408.40h-2M702.80 403.65h-2M702.80 399.64h-2M702.80 396.16h-2M702.80 393.09h-2" stroke="#5c5c5c" stroke-width="1" fill="none"/>
<rect x="702.80" y="390.50" width="495.20" height="258.50" fill="none" stroke="#5c5c5c" stroke-width="1"/>
<text x="697.00" y="399.30" font-size="25" text-anchor="end" fill="#262626"><tspan textLength="22.3" lengthAdjust="spacingAndGlyphs">10</tspan><tspan font-size="18" dx="-0.4" dy="-8.8" textLength="7.9" lengthAdjust="spacingAndGlyphs">3</tspan></text>
<text x="697.00" y="459.20" font-size="25" text-anchor="end" fill="#262626"><tspan textLength="22.3" lengthAdjust="spacingAndGlyphs">10</tspan><tspan font-size="18" dx="-0.4" dy="-8.8" textLength="7.9" lengthAdjust="spacingAndGlyphs">2</tspan></text>
<text x="697.00" y="519.10" font-size="25" text-anchor="end" fill="#262626"><tspan textLength="22.3" lengthAdjust="spacingAndGlyphs">10</tspan><tspan font-size="18" dx="-0.4" dy="-8.8" textLength="7.9" lengthAdjust="spacingAndGlyphs">1</tspan></text>
<text x="697.00" y="579.00" font-size="25" text-anchor="end" fill="#262626"><tspan textLength="22.3" lengthAdjust="spacingAndGlyphs">10</tspan><tspan font-size="18" dx="-0.4" dy="-8.8" textLength="7.9" lengthAdjust="spacingAndGlyphs">0</tspan></text>
<text x="697.00" y="638.90" font-size="25" text-anchor="end" fill="#262626"><tspan textLength="22.3" lengthAdjust="spacingAndGlyphs">10</tspan><tspan font-size="18" dx="-0.2" dy="-8.8" textLength="12" lengthAdjust="spacingAndGlyphs">−</tspan><tspan font-size="18" textLength="7.9" lengthAdjust="spacingAndGlyphs">1</tspan></text>
<text x="757.50" y="672.30" font-size="25" text-anchor="start" fill="#262626"><tspan textLength="22.3" lengthAdjust="spacingAndGlyphs">10</tspan><tspan font-size="18" dx="-0.4" dy="-8.8" textLength="7.9" lengthAdjust="spacingAndGlyphs">1</tspan></text>
<text x="985.50" y="672.30" font-size="25" text-anchor="start" fill="#262626"><tspan textLength="22.3" lengthAdjust="spacingAndGlyphs">10</tspan><tspan font-size="18" dx="-0.4" dy="-8.8" textLength="7.9" lengthAdjust="spacingAndGlyphs">2</tspan></text>
<text font-size="25" fill="#262626"><tspan x="904.90" y="698.50" font-style="italic">R</tspan><tspan x="919.90" y="702.10" font-size="18.3">trunc</tspan><tspan x="959.10" y="704.30" font-size="36">/</tspan><tspan x="971.20" y="698.50" font-style="italic">R</tspan><tspan x="985.10" y="702.10" font-size="18.3">S</tspan></text>
<text transform="translate(644.00,562.80) rotate(-90)" font-size="25" fill="#262626"><tspan x="-1.20" y="0.00" font-style="italic" textLength="8.0" lengthAdjust="spacingAndGlyphs">t</tspan><tspan x="8.40" y="4.00" font-size="17" letter-spacing="-0.3">front</tspan><tspan x="48.70" y="0.00" font-size="26.5">(</tspan><tspan x="57.60" y="0.00" textLength="16.2" lengthAdjust="spacingAndGlyphs">yr</tspan><tspan x="75.20" y="0.00" font-size="26.5">)</tspan></text>
</svg>
</body></html>
